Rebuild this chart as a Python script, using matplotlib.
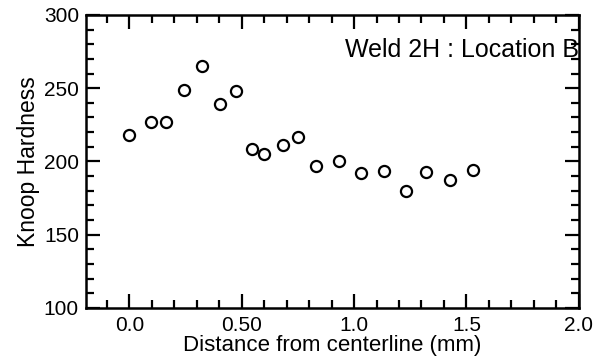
import matplotlib
matplotlib.use("Agg")
import matplotlib.pyplot as plt
from matplotlib.ticker import MultipleLocator, FixedLocator, FixedFormatter

plt.rcParams['font.family'] = ['Liberation Sans', 'DejaVu Sans']

# distance from centerline (mm) and Knoop hardness
distance = [0.0, 0.095, 0.163, 0.245, 0.323, 0.405, 0.474, 0.546, 0.600,
            0.682, 0.749, 0.830, 0.934, 1.033, 1.134, 1.233, 1.322, 1.426, 1.530]
hardness = [218, 227, 227, 249, 265, 239, 248, 208.5, 205, 211.5, 217,
            197, 200, 192, 193.5, 180, 192.5, 187.5, 194]

x_ticks = [0.0, 0.5, 1.0, 1.5, 2.0]
x_tick_labels = ["0.0", "0.50", "1.0", "1.5", "2.0"]

fig = plt.figure(figsize=(6.01, 3.64), dpi=100)
ax = fig.add_axes([0.143, 0.154, 0.820, 0.805])

ax.plot(distance, hardness, 'o', mfc='white', mec='black', ms=8, mew=1.6,
        linestyle='none', clip_on=False)

ax.set_xlim(-0.193, 2.0)
ax.set_ylim(100, 300)

ax.xaxis.set_major_locator(FixedLocator(x_ticks))
ax.xaxis.set_major_formatter(FixedFormatter(x_tick_labels))
ax.xaxis.set_minor_locator(MultipleLocator(0.1))
ax.yaxis.set_major_locator(MultipleLocator(50))
ax.yaxis.set_minor_locator(MultipleLocator(10))

ax.tick_params(which='both', direction='in', top=True, right=True,
               width=1.6, labelsize=15)
ax.tick_params(axis='x', pad=6)
ax.tick_params(axis='y', pad=5)
ax.tick_params(which='major', length=10)
ax.tick_params(which='minor', length=6)
for s in ax.spines.values():
    s.set_linewidth(1.8)

ax.set_xlabel("Distance from centerline (mm)", fontsize=16, labelpad=0)
ax.set_ylabel("Knoop Hardness", fontsize=16.5, labelpad=3)

ax.text(2.0, 271, "Weld 2H : Location B", ha='right', va='baseline', fontsize=18)

fig.savefig("out.png", dpi=100)
